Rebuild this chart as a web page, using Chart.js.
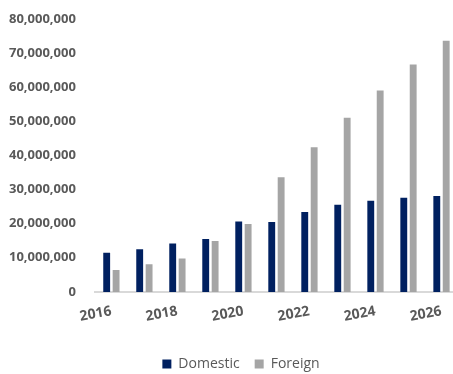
<!DOCTYPE html>
<html>
<head>
<meta charset="utf-8">
<script src="https://cdn.jsdelivr.net/npm/chart.js@4/dist/chart.umd.min.js"></script>
<style>
  html, body { margin: 0; padding: 0; background: #fff; overflow: hidden; }
  /* canvas is a bit larger than the window so the plot runs to the right edge */
  #wrap { width: 458px; height: 381px; }
</style>
</head>
<body>
<div id="wrap"><canvas id="myChart"></canvas></div>
<script>
const years = ['2016', '2017', '2018', '2019', '2020', '2021', '2022', '2023', '2024', '2025', '2026']
const domestic = [11500000, 12500000, 14200000, 15500000, 20600000, 20500000, 23400000, 25500000, 26700000, 27600000, 28100000]
const foreign = [6400000, 8100000, 9800000, 14900000, 19900000, 33600000, 42400000, 51000000, 59000000, 66600000, 73600000]

const grey = '#595959'

// nudge the legend a bit to the right of centre
const legendShift = {
  id: 'legendShift',
  afterLayout(chart) {
    chart.legend.left += 15
    chart.legend.right += 15
  },
}

const config = {
  type: 'bar',
  data: {
    labels: years,
    datasets: [
      {
        label: 'Domestic',
        data: domestic,
        backgroundColor: '#002060',
        categoryPercentage: 0.57,
        barPercentage: 0.73,
      },
      {
        label: 'Foreign',
        data: foreign,
        backgroundColor: '#a5a5a5',
        categoryPercentage: 0.57,
        barPercentage: 0.73,
      },
    ],
  },
  options: {
    responsive: true,
    maintainAspectRatio: false,
    animation: false,
    layout: { padding: { left: -6, right: 0, top: 0, bottom: 0 } },
    plugins: {
      legend: {
        position: 'bottom',
        labels: {
          color: grey,
          font: { family: 'Open Sans', size: 14 },
          boxWidth: 9,
          boxHeight: 9,
          padding: 15,
        },
      },
      tooltip: { enabled: false },
    },
    scales: {
      x: {
        grid: { display: false },
        border: { color: '#d9d9d9', width: 2 },
        ticks: {
          color: grey,
          padding: 3,
          font: { family: 'Open Sans', size: 14, weight: 'bold' },
          autoSkip: false,
          minRotation: 10,
          maxRotation: 10,
          callback: function (val, i) {
            return i % 2 === 0 ? years[i] : null
          },
        },
        // extra room between the year labels and the legend
        afterFit: function (scale) {
          scale.height += 14
        },
      },
      y: {
        min: 0,
        max: 80000000,
        grid: { display: false },
        border: { display: false },
        ticks: {
          stepSize: 10000000,
          color: grey,
          padding: 11,
          font: { family: 'Open Sans', size: 13, weight: 'bold' },
          callback: function (v) {
            return v.toLocaleString('en-US')
          },
        },
        afterFit: function (scale) {
          scale.width += 4
        },
      },
    },
  },
  plugins: [legendShift],
}

const myChart = new Chart(document.getElementById('myChart'), config)
</script>
</body>
</html>
